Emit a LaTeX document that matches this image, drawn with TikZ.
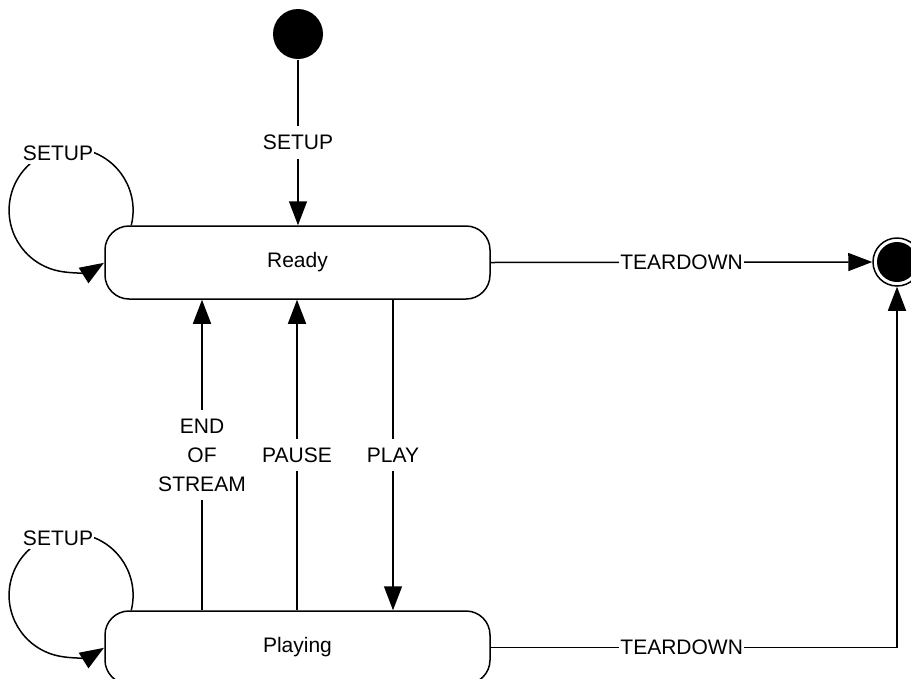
\documentclass[tikz,border=0pt]{standalone}
\usepackage{fontspec}
\setmainfont{Liberation Sans}
\usetikzlibrary{arrows.meta}

\tikzset{
  state/.style={draw, rounded corners=24pt, minimum width=385pt, minimum height=73pt, inner sep=0pt},
  lbl/.style={fill=white, inner xsep=1pt, inner ysep=9pt, align=center},
}

\begin{document}
\begin{tikzpicture}[x=1pt, y=-1pt, line width=1.5pt, >={Triangle[length=24pt,width=18pt]}, font=\fontsize{21}{29}\selectfont]
\useasboundingbox (0,0) rectangle (911,678);
\draw (298, 34) node[circle, fill, minimum size=50pt, inner sep=0pt] (init) {}; % Initial
\draw (897, 262) node[circle, draw, minimum size=48pt, inner sep=0pt] (final) {}; % Final
\fill (final.center) circle (20); % Final
\draw (297.5, 262.5) node[state] (ready) {Ready}; % Ready
\draw (297.5, 647.5) node[state] (playing) {Playing}; % Playing

\draw[->] (init) -- node[lbl] {SETUP} (ready.north -| init); % init.setup
\draw[->] (ready.east) -- node[lbl] {TEARDOWN} (final.west); % ready.teardown
\draw[->] (playing.east) -- node[lbl, pos=0.47] {TEARDOWN} (playing.east -| final) -- (final.south); % playing.teardown

\draw[->] ([xshift=-95.5pt]playing.north) -- node[lbl] {END\\OF\\STREAM} ([xshift=-95.5pt]ready.south); % eos
\draw[->] ([xshift=-0.5pt]playing.north) -- node[lbl] {PAUSE} ([xshift=-0.5pt]ready.south); % pause
\draw[->] ([xshift=95.5pt]ready.south) -- node[lbl] {PLAY} ([xshift=95.5pt]playing.north); % play

\draw[->] ([xshift=27pt]ready.north west) arc (14:-302:62); % ready.setup
\draw[->] ([xshift=27pt]playing.north west) arc (14:-302:62); % playing.setup
\draw (58, 153) node[lbl, inner ysep=4pt] (setupR) {SETUP}; % ready.setup
\draw (58, 538) node[lbl, inner ysep=4pt] (setupP) {SETUP}; % playing.setup

\end{tikzpicture}
\end{document}
